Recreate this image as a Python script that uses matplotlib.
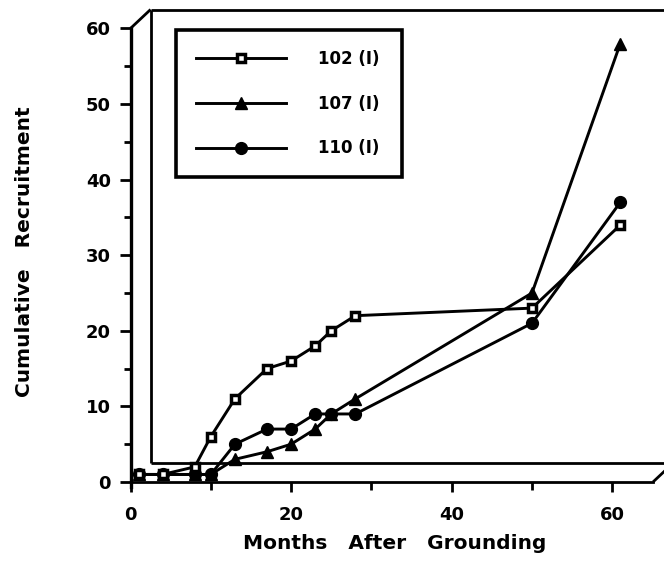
import matplotlib
matplotlib.use("Agg")
import matplotlib.pyplot as plt
from matplotlib.ticker import MultipleLocator, FixedLocator

# ---- data ----
months = [1, 4, 8, 10, 13, 17, 20, 23, 25, 28, 50, 61]
rec_102 = [1, 1, 2, 6, 11, 15, 16, 18, 20, 22, 23, 34]
rec_107 = [1, 1, 1, 1, 3, 4, 5, 7, 9, 11, 25, 58]
rec_110 = [1, 1, 1, 1, 5, 7, 7, 9, 9, 9, 21, 37]
labels = ["102 (I)", "107 (I)", "110 (I)"]
x_ticks = [0, 20, 40, 60]
y_ticks = [0, 10, 20, 30, 40, 50, 60]

plt.rcParams['font.family'] = ['DejaVu Sans']
plt.rcParams['font.weight'] = 'bold'

W, H = 664, 563
fig = plt.figure(figsize=(W / 100, H / 100), dpi=100)
x0px, y0px = 130.5, 482.0
x1px, y1px = 653.0, 28.0
ax = fig.add_axes([x0px / W, (H - y0px) / H, (x1px - x0px) / W, (y0px - y1px) / H])
xmax = (x1px - x0px) / 8.03
ymax = (y0px - y1px) / 7.56
ax.set_xlim(0, xmax)
ax.set_ylim(0, ymax)
ax.set_facecolor('none')

for s in ['top', 'right']:
    ax.spines[s].set_visible(False)
ax.spines['left'].set_linewidth(2.4)
ax.spines['bottom'].set_linewidth(2.0)
ax.spines['left'].set_bounds(-0.6, 60)

# 3D frame (offset back wall)
d = 2.5
frame_kw = dict(color='black', lw=2.0, clip_on=False, zorder=1, solid_capstyle='butt')
ax.plot([0, d], [60, 60 + d], **frame_kw)
ax.plot([d, 80], [60 + d, 60 + d], **frame_kw)
ax.plot([d, d], [d, 60 + d], **frame_kw)
ax.plot([d, 80], [d, d], **frame_kw)
ax.plot([xmax, xmax + d], [0, d], **frame_kw)

ax.xaxis.set_major_locator(FixedLocator(x_ticks))
ax.xaxis.set_minor_locator(FixedLocator([10, 30, 50]))
ax.yaxis.set_major_locator(FixedLocator(y_ticks))
ax.yaxis.set_minor_locator(MultipleLocator(5))
ax.tick_params(axis='y', which='major', length=8, width=2, pad=6, labelsize=13)
ax.tick_params(axis='y', which='minor', length=5, width=2)
ax.tick_params(axis='x', which='major', length=7, width=2, pad=10, labelsize=13)
ax.tick_params(axis='x', which='minor', length=6, width=2)

lw = 2.1
ax.plot(months, rec_102, color='black', lw=lw, marker='s', ms=6.0, mfc='white',
        mec='black', mew=2.5, label=labels[0], zorder=4)
ax.plot(months, rec_107, color='black', lw=lw, marker='^', ms=8.5, mfc='black',
        mec='black', label=labels[1], zorder=3)
ax.plot(months, rec_110, color='black', lw=lw, marker='o', ms=8.5, mfc='black',
        mec='black', label=labels[2], zorder=3)

ax.set_xlabel("Months   After   Grounding", fontsize=14.5, fontweight='bold')
ax.xaxis.set_label_coords((395 - x0px) / (x1px - x0px), (y0px - 534) / (y0px - y1px))
ax.set_ylabel("Cumulative   Recruitment", fontsize=14.5, fontweight='bold')
ax.yaxis.set_label_coords((34 - x0px) / (x1px - x0px), (y0px - 252) / (y0px - y1px))

leg = fig.legend(loc='upper left',
                 bbox_to_anchor=(176 / W, 1 - 30 / H, (402 - 176) / W, 0),
                 mode='expand', fontsize=12, handlelength=5.4, handletextpad=1.9,
                 borderpad=1.2, labelspacing=1.6, fancybox=False, framealpha=1,
                 edgecolor='black', borderaxespad=0, numpoints=1)
leg.get_frame().set_linewidth(2.6)

fig.savefig("out.png", dpi=100)
